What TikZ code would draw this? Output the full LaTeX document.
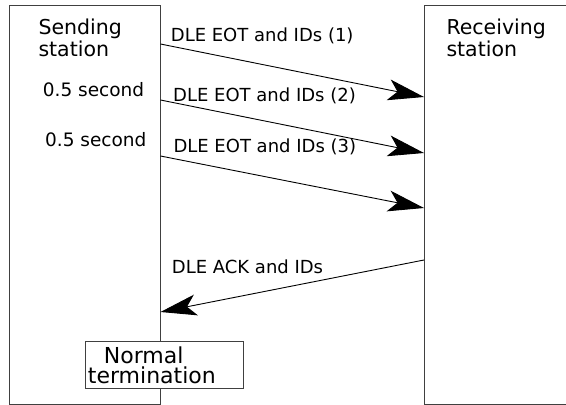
\documentclass[tikz,border=0pt]{standalone}
\usepackage{fontspec}
\setmainfont{DejaVu Sans}
\usetikzlibrary{arrows.meta, positioning}

\begin{document}
\begin{tikzpicture}[x=1pt, y=-1pt,
    box/.style={draw=black!75, line width=1.2pt, inner sep=0pt},
    msg/.style={draw=black, line width=0.9pt, -{Stealth[length=36pt, width=21pt, inset=9pt]}},
    lbl/.style={anchor=base west, inner sep=0pt, font=\fontsize{18}{20}\selectfont},
    big/.style={anchor=base west, inner sep=0pt, align=left, font=\fontsize{20.5}{22.4}\selectfont}]

    \useasboundingbox (0,0) rectangle (566,405);

    % --- Stations ---
    \node[box, minimum width=151pt, minimum height=399pt, anchor=north west] (send) at (9,5) {};
    \node[box, minimum width=170pt, minimum height=399pt, anchor=north west] (recv) at (424,5) {};
    % base of a two-line node = base of its last line
    \node[big] (sendtxt) at (38.3,56.7) {Sending\\station};
    \node[big] (recvtxt) at (446.3,56.7) {Receiving\\station};

    % --- Ends of the messages on the station edges ---
    \coordinate (s1) at (160.5,44);
    \coordinate (r1) at (424,97);
    \coordinate (s2) at (160.5,100);
    \coordinate (r2) at (424,153);
    \coordinate (s3) at (160.5,156);
    \coordinate (r3) at (424,208);
    \coordinate (r4) at (424,260);
    \coordinate (s4) at (160.5,312);

    % --- Messages ---
    \draw[msg] (s1) -- (r1);
    \draw[msg] (s2) -- (r2);
    \draw[msg] (s3) -- (r3);
    \draw[msg] (r4) -- (s4);

    \node[lbl] (m1) at (170.7,41.7) {DLE EOT and IDs (1)};
    \node[lbl] (m2) at (173,101.7) {DLE EOT and IDs (2)};
    \node[lbl] (m3) at (173.3,152.7) {DLE EOT and IDs (3)};
    \node[lbl] (m4) at (171.7,273.5) {DLE ACK and IDs};

    % --- Intervals ---
    \node[lbl, font=\fontsize{18.5}{20}\selectfont] (t1) at (42.7,96) {0.5 second};
    \node[lbl, font=\fontsize{18.5}{20}\selectfont] (t2) at (45,146.7) {0.5 second};

    % --- End ---
    \node[box, fill=white, inner xsep=2.3pt, text width=153pt, align=left,
          minimum height=46.7pt, anchor=north west, font=\fontsize{22}{19.7}\selectfont]
          (term) at (85,341) {\hspace*{16pt}Normal\\termination};

\end{tikzpicture}
\end{document}
